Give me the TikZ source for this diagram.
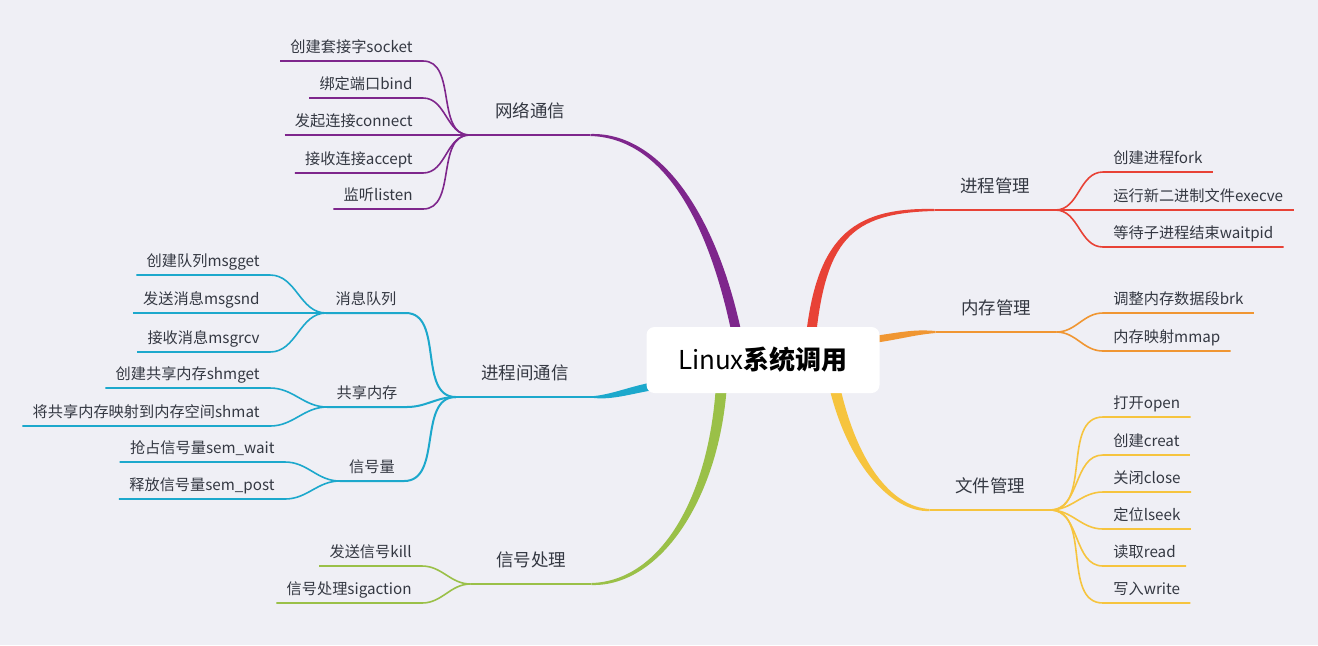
\documentclass[tikz,border=0pt]{standalone}
\usepackage{fontspec}
\setmainfont{Noto Sans CJK SC}
\usetikzlibrary{calc,positioning}

\definecolor{bgcol}{RGB}{239,239,245}
\definecolor{txtcol}{RGB}{52,56,66}
\definecolor{netcol}{RGB}{126,38,140}
\definecolor{proccol}{RGB}{232,66,54}
\definecolor{memcol}{RGB}{240,150,50}
\definecolor{filecol}{RGB}{246,196,62}
\definecolor{sigcol}{RGB}{154,192,72}
\definecolor{ipccol}{RGB}{28,168,204}

\pgfdeclarelayer{bg}
\pgfdeclarelayer{under}
\pgfsetlayers{bg,under,main}

% tapered trunk: colour, from, ctrl offset at start, ctrl offset at end, to, half width at start
\newcommand\trunk[6]{\fill[#1] ($(#2)-(#6)$) .. controls ($(#2)+(#3)-(#6)$) and ($(#5)+(#4)+(0,3)$) .. ($(#5)+(0,1)$)
  -- ($(#5)-(0,1)$) .. controls ($(#5)+(#4)-(0,3)$) and ($(#2)+(#3)+(#6)$) .. ($(#2)+(#6)$) -- cycle;}

\begin{document}
\begin{tikzpicture}[x=0.5pt,y=-0.5pt,
    rootbox/.style={fill=white!97!bgcol,rounded corners=4pt,minimum width=116.5pt,minimum height=33pt,
                    font=\fontsize{13}{15}\selectfont,text=black},
    maintopic/.style={font=\fontsize{8.75}{10}\selectfont,text=txtcol,anchor=south,
                      inner xsep=12.5pt,inner ysep=6.4pt,text depth=2pt},
    subtopic/.style={font=\fontsize{7.6}{9}\selectfont,text=txtcol,anchor=south,
                     inner xsep=4.5pt,inner ysep=2.1pt,text depth=2pt},
    leafnode/.style={subtopic,inner xsep=5pt},
    twig/.style={line width=0.8pt},
    limb/.style={line width=1pt}]

  \begin{pgfonlayer}{bg}
    \fill[bgcol] (0,0) rectangle (1318,645);
  \end{pgfonlayer}

  \node[rootbox] (root) at (763,360) {Linux\textbf{系统调用}};

  \node[maintopic] (net)  at (530,135) {网络通信};
  \node[maintopic] (ipc)  at (525,397) {进程间通信};
  \node[maintopic] (sig)  at (531,584) {信号处理};
  \node[maintopic] (proc) at (995,210) {进程管理};
  \node[maintopic] (mem)  at (996,332) {内存管理};
  \node[maintopic] (file) at (990,510) {文件管理};

  \coordinate (rNet)  at ($(root.center)+(-24,-15)$);
  \coordinate (rProc) at ($(root.center)+(47,-15)$);
  \coordinate (rSig)  at ($(root.center)+(-41,15)$);
  \coordinate (rFile) at ($(root.center)+(69,15)$);
  \coordinate (rMem)  at ($(root.center)+(107,-20)$);
  \coordinate (rIpc)  at ($(root.center)+(-103,25)$);

  \begin{pgfonlayer}{under}
    \trunk{netcol}{rNet}{-25,-130}{70,0}{net.south east}{5,0}
    \trunk{proccol}{rProc}{10,-105}{-85,0}{proc.south west}{-5,0}
    \trunk{sigcol}{rSig}{-5,120}{70,0}{sig.south east}{-5.5,0}
    \trunk{filecol}{rFile}{18,90}{-37,0}{file.south west}{5.5,0}
    \trunk{memcol}{rMem}{30,-4}{-23,0}{mem.south west}{0,-3.5}
    \trunk{ipccol}{rIpc}{-27,4}{20,0}{ipc.south east}{0,-4}
  \end{pgfonlayer}

  % left side
  \node[leafnode,anchor=south east] (s1) at (423,61)  {创建套接字socket};
  \node[leafnode,anchor=south east] (s2) at (423,98)  {绑定端口bind};
  \node[leafnode,anchor=south east] (s3) at (423,135) {发起连接connect};
  \node[leafnode,anchor=south east] (s4) at (423,173) {接收连接accept};
  \node[leafnode,anchor=south east] (s5) at (423,209) {监听listen};

  \node[subtopic] (mq)  at (366,313) {消息队列};
  \node[subtopic] (shm) at (367,407) {共享内存};
  \node[subtopic] (sem) at (372,481) {信号量};

  \node[leafnode,anchor=south east] (q1) at (270,275) {创建队列msgget};
  \node[leafnode,anchor=south east] (q2) at (270,313) {发送消息msgsnd};
  \node[leafnode,anchor=south east] (q3) at (270,352) {接收消息msgrcv};
  \node[leafnode,anchor=south east] (h1) at (270,388) {创建共享内存shmget};
  \node[leafnode,anchor=south east] (h2) at (270,426) {将共享内存映射到内存空间shmat};
  \node[leafnode,anchor=south east] (e1) at (285,462) {抢占信号量sem\_wait};
  \node[leafnode,anchor=south east] (e2) at (285,499) {释放信号量sem\_post};

  \node[leafnode,anchor=south east] (k1) at (422,566) {发送信号kill};
  \node[leafnode,anchor=south east] (k2) at (422,603) {信号处理sigaction};

  % right side
  \node[leafnode,anchor=south west] (p1) at (1103,172) {创建进程fork};
  \node[leafnode,anchor=south west] (p2) at (1103,210) {运行新二进制文件execve};
  \node[leafnode,anchor=south west] (p3) at (1103,247) {等待子进程结束waitpid};

  \node[leafnode,anchor=south west] (m1) at (1103,313) {调整内存数据段brk};
  \node[leafnode,anchor=south west] (m2) at (1103,351) {内存映射mmap};

  \node[leafnode,anchor=south west] (f1) at (1103,417) {打开open};
  \node[leafnode,anchor=south west] (f2) at (1103,455) {创建creat};
  \node[leafnode,anchor=south west] (f3) at (1103,492) {关闭close};
  \node[leafnode,anchor=south west] (f4) at (1103,529) {定位lseek};
  \node[leafnode,anchor=south west] (f5) at (1103,566) {读取read};
  \node[leafnode,anchor=south west] (f6) at (1103,603) {写入write};

  % main topic lines
  \draw[limb,netcol]  (net.south west) -- (net.south east);
  \draw[limb,ipccol]  (ipc.south west) -- (ipc.south east);
  \draw[limb,sigcol]  (sig.south west) -- (sig.south east);
  \draw[limb,proccol] (proc.south west) -- (proc.south east);
  \draw[limb,memcol]  (mem.south west) -- (mem.south east);
  \draw[limb,filecol] (file.south west) -- (file.south east);

  % network
  \draw[twig,netcol] (s1.south west) -- (s1.south east) to[out=0,in=180] (net.south west);
  \draw[twig,netcol] (s2.south west) -- (s2.south east) to[out=0,in=180] (net.south west);
  \draw[twig,netcol] (s3.south west) -- (s3.south east) -- (net.south west);
  \draw[twig,netcol] (s4.south west) -- (s4.south east) to[out=0,in=180] (net.south west);
  \draw[twig,netcol] (s5.south west) -- (s5.south east) to[out=0,in=180] (net.south west);

  % ipc
  \draw[limb,ipccol] (ipc.south west) to[out=180,in=0] (mq.south east) -- (mq.south west);
  \draw[limb,ipccol] (ipc.south west) to[out=180,in=0] (shm.south east) -- (shm.south west);
  \draw[limb,ipccol] (ipc.south west) to[out=180,in=0] (sem.south east) -- (sem.south west);
  \draw[twig,ipccol] (q1.south west) -- (q1.south east) to[out=0,in=180] (mq.south west);
  \draw[twig,ipccol] (q2.south west) -- (q2.south east) -- (mq.south west);
  \draw[twig,ipccol] (q3.south west) -- (q3.south east) to[out=0,in=180] (mq.south west);
  \draw[twig,ipccol] (h1.south west) -- (h1.south east) to[out=0,in=180] (shm.south west);
  \draw[twig,ipccol] (h2.south west) -- (h2.south east) to[out=0,in=180] (shm.south west);
  \draw[twig,ipccol] (e1.south west) -- (e1.south east) to[out=0,in=180] (sem.south west);
  \draw[twig,ipccol] (e2.south west) -- (e2.south east) to[out=0,in=180] (sem.south west);

  % signals
  \draw[twig,sigcol] (k1.south west) -- (k1.south east) to[out=0,in=180] (sig.south west);
  \draw[twig,sigcol] (k2.south west) -- (k2.south east) to[out=0,in=180] (sig.south west);

  % process
  \draw[twig,proccol] (proc.south east) to[out=0,in=180] (p1.south west) -- (p1.south east);
  \draw[twig,proccol] (proc.south east) -- (p2.south west) -- (p2.south east);
  \draw[twig,proccol] (proc.south east) to[out=0,in=180] (p3.south west) -- (p3.south east);

  % memory
  \draw[twig,memcol] (mem.south east) to[out=0,in=180] (m1.south west) -- (m1.south east);
  \draw[twig,memcol] (mem.south east) to[out=0,in=180] (m2.south west) -- (m2.south east);

  % files
  \draw[twig,filecol] (file.south east) to[out=0,in=180] (f1.south west) -- (f1.south east);
  \draw[twig,filecol] (file.south east) to[out=0,in=180] (f2.south west) -- (f2.south east);
  \draw[twig,filecol] (file.south east) to[out=0,in=180] (f3.south west) -- (f3.south east);
  \draw[twig,filecol] (file.south east) to[out=0,in=180] (f4.south west) -- (f4.south east);
  \draw[twig,filecol] (file.south east) to[out=0,in=180] (f5.south west) -- (f5.south east);
  \draw[twig,filecol] (file.south east) to[out=0,in=180] (f6.south west) -- (f6.south east);
\end{tikzpicture}
\end{document}
